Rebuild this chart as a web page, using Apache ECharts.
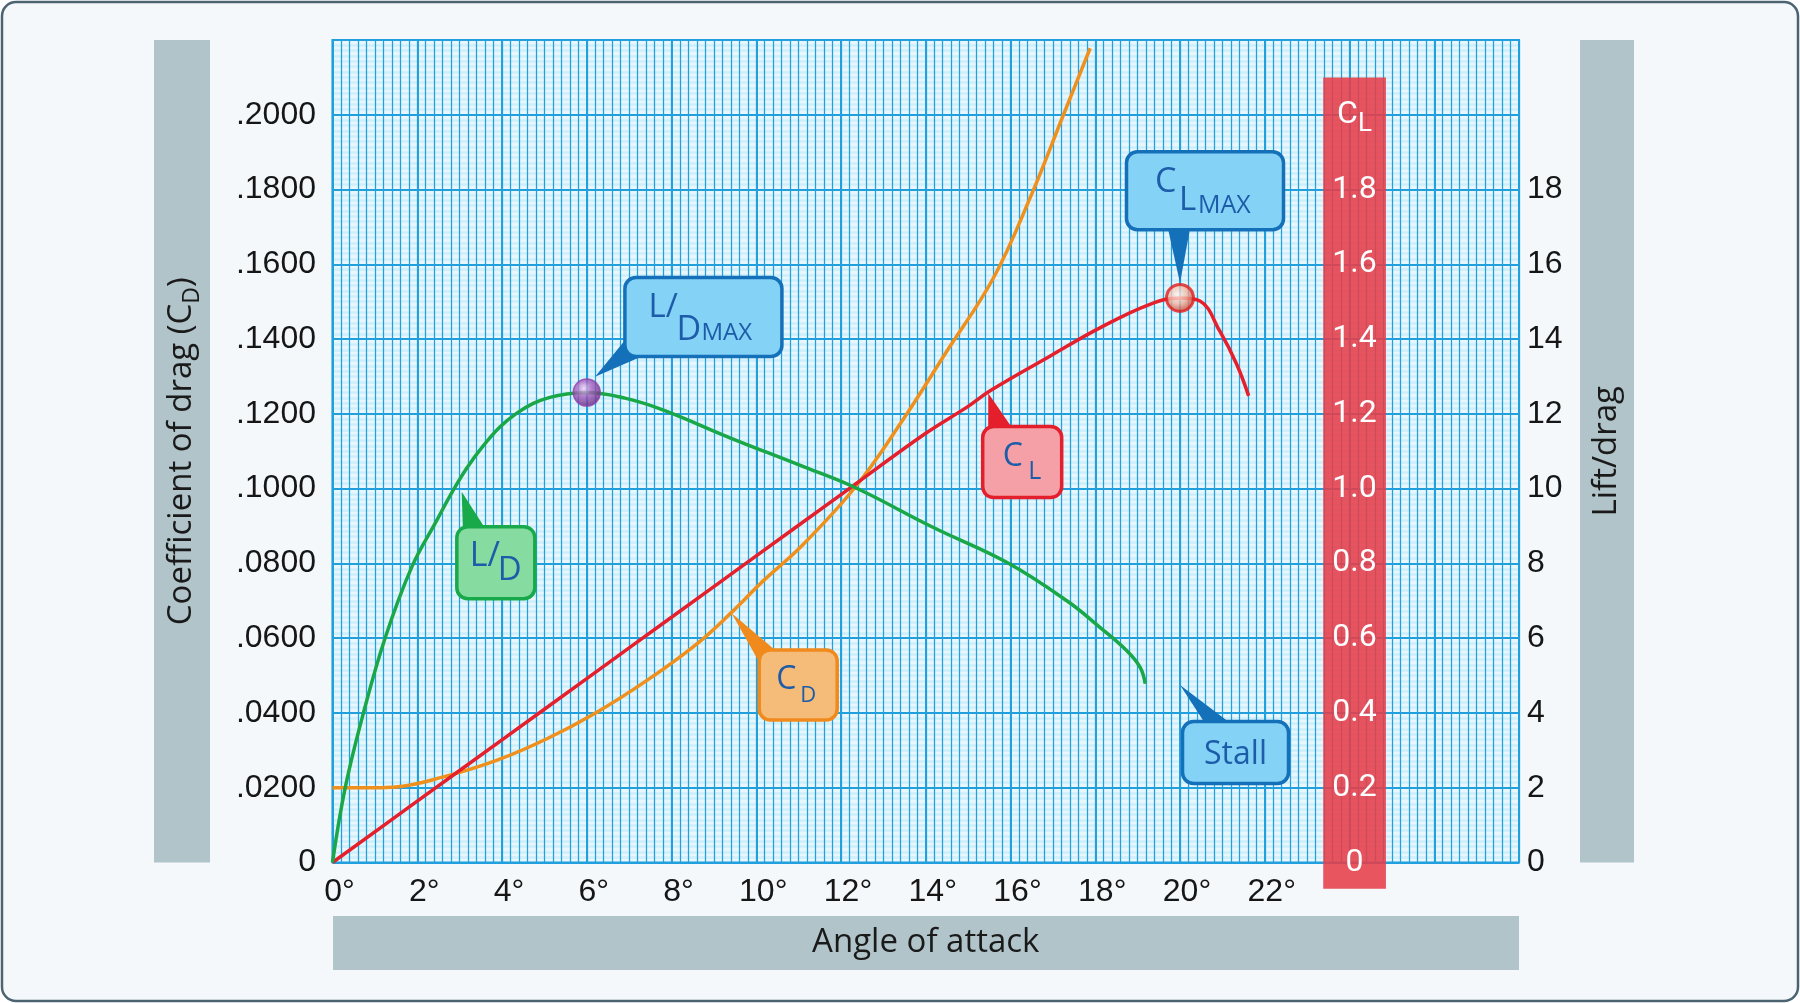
<!DOCTYPE html>
<html>
<head>
<meta charset="utf-8">
<title>Angle of attack</title>
<script src="https://cdn.jsdelivr.net/npm/echarts/dist/echarts.min.js"></script>
<style>
  html, body { margin: 0; padding: 0; background: #ffffff; }
  #chart { width: 1800px; height: 1003px; }
</style>
</head>
<body>
<div id="chart"></div>
<script>
// lift/drag ratio against angle of attack (deg)
const ldAngles = [0, 0.3, 0.73, 1.24, 1.87, 2.46, 2.77, 3.17, 3.56, 3.95, 4.35, 4.74, 5.13, 5.53, 6, 6.9, 7.81, 9.38, 11.04, 12.33, 14.18, 15.91, 17.33, 18.11, 18.74, 19.06, 19.18];
const ldValues = [0, 2, 4, 6, 7.9, 9.15, 9.8, 10.55, 11.15, 11.65, 12.02, 12.28, 12.44, 12.53, 12.57, 12.42, 12.1, 11.36, 10.62, 10.03, 8.96, 8.03, 7.0, 6.29, 5.67, 5.22, 4.78];

// coefficient of drag
const cdAngles = [0, 1, 1.5, 2.62, 3.87, 5.06, 6.24, 7.42, 8.6, 9.38, 10.17, 11.04, 12.33, 13.39, 14.5, 15.6, 16.46, 17.25, 17.88];
const cdValues = [0.02, 0.02, 0.0202, 0.0229, 0.0273, 0.0331, 0.0402, 0.0487, 0.0585, 0.0665, 0.0754, 0.0843, 0.1003, 0.1172, 0.1368, 0.1564, 0.1777, 0.2, 0.2178];

// coefficient of lift
const clAngles = [0, 2, 4, 6, 8, 10, 12, 14, 15, 15.52, 16.94, 18.11, 19.29, 20, 20.47, 20.94, 21.34, 21.62];
const clValues = [0, 0.164, 0.328, 0.492, 0.656, 0.82, 0.984, 1.148, 1.22, 1.262, 1.355, 1.43, 1.493, 1.51, 1.502, 1.421, 1.332, 1.248];

// tick labels
const angleLabels = ['0°', '2°', '4°', '6°', '8°', '10°', '12°', '14°', '16°', '18°', '20°', '22°'];
const cdLabels = ['0', '.0200', '.0400', '.0600', '.0800', '.1000', '.1200', '.1400', '.1600', '.1800', '.2000'];
const ldLabels = ['0', '2', '4', '6', '8', '10', '12', '14', '16', '18'];
const clLabels = ['0', '0.2', '0.4', '0.6', '0.8', '1.0', '1.2', '1.4', '1.6', '1.8'];

// red C_L scale strip (degrees, C_L units)
const clBandAngles = [23.38, 24.86];
const clBandRange = [-0.07, 2.1];

const TEXT_BLUE = '#1d5ca8';
const LABEL_FONT = 'Liberation Sans';
const TITLE_FONT = 'Open Sans';

// callout boxes: tip and box centre in (deg, C_D) units, the rest in px
const callouts = [
  { tip: [6.195, 0.1299], box: [8.753, 0.1459], size: [157, 79], fill: '#84d2f6', stroke: '#1470b8',
    base: [[-79, 24], [-63, 40]],
    text: [{ t: 'L/', dx: -55, dy: -9, s: 33 }, { t: 'D', dx: -27, dy: 13, s: 34 }, { t: 'MAX', dx: -2, dy: 16, s: 24 }] },
  { tip: [20.0, 0.155], box: [20.59, 0.1797], size: [157, 78], fill: '#84d2f6', stroke: '#1470b8',
    base: [[-37, 38], [-15, 38]],
    text: [{ t: 'C', dx: -50, dy: -8, s: 34 }, { t: 'L', dx: -26, dy: 10, s: 33 }, { t: 'MAX', dx: -7, dy: 15, s: 25 }] },
  { tip: [3.049, 0.0992], box: [3.854, 0.0802], size: [78, 72], fill: '#86dba0', stroke: '#18a94a',
    base: [[-33, -35], [-11, -35]],
    text: [{ t: 'L/', dx: -26, dy: -6, s: 34 }, { t: 'D', dx: 2, dy: 8, s: 33 }] },
  { tip: [9.42, 0.0667], box: [10.99, 0.0475], size: [78, 70], fill: '#f5bb78', stroke: '#f08a1c',
    base: [[-38, -21], [-22, -34]],
    text: [{ t: 'C', dx: -22, dy: -5, s: 32 }, { t: 'D', dx: 2, dy: 11, s: 22 }] },
  { tip: [15.476, 0.1255], box: [16.276, 0.1071], size: [79, 71], fill: '#f4a0a6', stroke: '#e41e2b',
    base: [[-34, -34], [-10, -34]],
    text: [{ t: 'C', dx: -19.5, dy: -5, s: 32 }, { t: 'L', dx: 6, dy: 10, s: 25 }] },
  { tip: [20.0, 0.0475], box: [21.31, 0.0294], size: [106, 62], fill: '#84d2f6', stroke: '#1470b8',
    base: [[-31, -30], [-6, -30]],
    text: [{ t: 'Stall', dx: 0, dy: 2.5, s: 32, align: 'center' }] }
];

function pairs(xs, ys) {
  return xs.map((x, i) => [x, ys[i]]);
}

function peakOf(xs, ys) {
  let k = 0;
  ys.forEach((v, i) => { if (v > ys[k]) k = i; });
  return [xs[k], ys[k]];
}

function renderBand(params, api) {
  const topLeft = api.coord([api.value(0), api.value(3)]);
  const bottomRight = api.coord([api.value(1), api.value(2)]);
  return {
    type: 'rect',
    shape: { x: topLeft[0], y: topLeft[1], width: bottomRight[0] - topLeft[0], height: bottomRight[1] - topLeft[1] },
    style: { fill: '#e63d49', opacity: 0.88 }
  };
}

function renderCallout(params, api) {
  const c = callouts[params.dataIndex];
  const tip = api.coord(c.tip);
  const mid = api.coord(c.box);
  const w = c.size[0];
  const h = c.size[1];
  const children = [
    {
      type: 'polygon',
      shape: { points: [tip, [mid[0] + c.base[0][0], mid[1] + c.base[0][1]], [mid[0] + c.base[1][0], mid[1] + c.base[1][1]]] },
      style: { fill: c.stroke }
    },
    {
      type: 'rect',
      shape: { x: mid[0] - w / 2, y: mid[1] - h / 2, width: w, height: h, r: 11 },
      style: { fill: c.fill, stroke: c.stroke, lineWidth: 3.5 }
    }
  ];
  c.text.forEach(t => {
    children.push({
      type: 'text',
      x: mid[0] + t.dx,
      y: mid[1] + t.dy,
      style: { text: t.t, fill: TEXT_BLUE, fontSize: t.s, fontFamily: TITLE_FONT, align: t.align || 'left', verticalAlign: 'middle' }
    });
  });
  return { type: 'group', children: children };
}

const labelStyle = { color: '#161616', fontSize: 32, fontFamily: LABEL_FONT };
const titleStyle = { color: '#1a1a1a', fontSize: 33, fontFamily: TITLE_FONT };
const curveLine = { showSymbol: false, symbol: 'none', smooth: 0.4, z: 5 };

const chart = echarts.init(document.getElementById('chart'));

chart.setOption({
  animation: false,
  backgroundColor: 'transparent',
  graphic: [
    { type: 'rect', z: -10, shape: { x: 2, y: 2, width: 1796, height: 999, r: 14 }, style: { fill: '#f4f8fb', stroke: '#4c6472', lineWidth: 2.5 } },
    { type: 'rect', z: -9, shape: { x: 154, y: 40, width: 56, height: 822.5 }, style: { fill: '#b0c4ca' } },
    { type: 'rect', z: -9, shape: { x: 1580, y: 40, width: 54, height: 822.5 }, style: { fill: '#b0c4ca' } },
    { type: 'rect', z: -9, shape: { x: 333, y: 916, width: 1186, height: 54 }, style: { fill: '#b0c4ca' } }
  ],
  grid: {
    left: 332.5, right: 281, top: 40, bottom: 140.5,
    show: true, backgroundColor: '#e9f7fd', borderColor: '#1c9ddb', borderWidth: 2
  },
  xAxis: [
    {
      type: 'value', min: 0, max: 28, interval: 2, z: 1,
      axisLine: { show: false }, axisTick: { show: false },
      splitLine: { show: true, lineStyle: { color: '#22a0de', width: 2 } },
      axisLabel: {
        ...labelStyle, margin: 14, padding: [0, 0, 0, 14],
        showMinLabel: true, showMaxLabel: true,
        formatter: v => angleLabels[Math.round(v / 2)] || ''
      },
      name: 'Angle of attack', nameLocation: 'middle', nameGap: 80,
      nameTextStyle: { ...titleStyle, verticalAlign: 'middle' }
    },
    {
      type: 'value', min: 0, max: 28, interval: 0.2, z: 2,
      axisLine: { show: false }, axisTick: { show: false }, axisLabel: { show: false },
      splitLine: { show: true, lineStyle: { color: '#22a0de', width: 1.25 } }
    }
  ],
  yAxis: [
    {
      type: 'value', min: 0, max: 0.22, interval: 0.02, position: 'left', z: 1,
      axisLine: { show: false }, axisTick: { show: false },
      splitLine: { show: true, lineStyle: { color: '#22a0de', width: 2 } },
      minorTick: { show: false, splitNumber: 14 },
      minorSplitLine: { show: true, lineStyle: { color: '#cdeefa', width: 2.5 } },
      axisLabel: {
        ...labelStyle, margin: 16.5, showMinLabel: true, showMaxLabel: true,
        formatter: v => cdLabels[Math.round(v / 0.02)] || ''
      },
      name: 'Coefficient of drag (C{sub|D})', nameLocation: 'middle', nameGap: 150.5, nameRotate: 90,
      nameTextStyle: {
        ...titleStyle, align: 'center', verticalAlign: 'middle',
        rich: { sub: { fontSize: 23, fontFamily: TITLE_FONT, color: '#1a1a1a', padding: [20, 0, 0, 0] } }
      }
    },
    {
      type: 'value', min: 0, max: 22, interval: 2, position: 'right', z: 1,
      axisLine: { show: false }, axisTick: { show: false }, splitLine: { show: false },
      axisLabel: {
        ...labelStyle, margin: 8, showMinLabel: true, showMaxLabel: true,
        formatter: v => ldLabels[Math.round(v / 2)] || ''
      },
      name: 'Lift/drag', nameLocation: 'middle', nameGap: 88, nameRotate: 90,
      nameTextStyle: { ...titleStyle, align: 'center', verticalAlign: 'middle' }
    },
    {
      type: 'value', min: 0, max: 2.2, interval: 0.2, position: 'right', offset: -164.5, z: 10,
      axisLine: { show: false }, axisTick: { show: false }, splitLine: { show: false },
      axisLabel: {
        color: '#ffffff', fontSize: 32, fontFamily: 'Roboto', margin: 0, align: 'center',
        showMinLabel: true, showMaxLabel: true,
        formatter: v => {
          const i = Math.round(v / 0.2);
          if (i === 10) return '{c|C}{l|L}';
          return clLabels[i] || '';
        },
        rich: {
          c: { color: '#ffffff', fontSize: 32, fontFamily: 'Roboto' },
          l: { color: '#ffffff', fontSize: 26, fontFamily: 'Roboto', padding: [20, 0, 0, 0] }
        }
      }
    }
  ],
  series: [
    {
      type: 'custom', name: 'CL scale', coordinateSystem: 'cartesian2d', xAxisIndex: 0, yAxisIndex: 2,
      clip: false, silent: true, z: 3,
      encode: { x: [0, 1], y: [2, 3] },
      data: [[clBandAngles[0], clBandAngles[1], clBandRange[0], clBandRange[1]]],
      renderItem: renderBand
    },
    {
      type: 'line', name: 'CD', xAxisIndex: 0, yAxisIndex: 0, ...curveLine,
      data: pairs(cdAngles, cdValues),
      lineStyle: { color: '#f0901c', width: 3.5 }
    },
    {
      type: 'line', name: 'CL', xAxisIndex: 0, yAxisIndex: 2, ...curveLine,
      data: pairs(clAngles, clValues),
      lineStyle: { color: '#e4202c', width: 3.5 }
    },
    {
      type: 'line', name: 'L/D', xAxisIndex: 0, yAxisIndex: 1, ...curveLine,
      data: pairs(ldAngles, ldValues),
      lineStyle: { color: '#19a748', width: 3.5 }
    },
    {
      type: 'scatter', name: 'L/D max', xAxisIndex: 0, yAxisIndex: 1, z: 8, silent: true,
      data: [peakOf(ldAngles, ldValues)], symbolSize: 27,
      itemStyle: {
        color: { type: 'radial', x: 0.4, y: 0.35, r: 0.7, colorStops: [
          { offset: 0, color: '#efd8f4' }, { offset: 0.35, color: '#ad68c4' }, { offset: 1, color: '#5e1c78' }] },
        borderColor: '#8e44ad', borderWidth: 1.5
      }
    },
    {
      type: 'scatter', name: 'CL max', xAxisIndex: 0, yAxisIndex: 2, z: 8, silent: true,
      data: [peakOf(clAngles, clValues)], symbolSize: 27,
      itemStyle: {
        color: { type: 'radial', x: 0.42, y: 0.38, r: 0.6, colorStops: [
          { offset: 0, color: '#fff6f0' }, { offset: 0.5, color: '#f2b9a6' }, { offset: 1, color: '#c8432f' }] },
        borderColor: '#e02020', borderWidth: 3
      }
    },
    {
      type: 'custom', name: 'callouts', coordinateSystem: 'cartesian2d', xAxisIndex: 0, yAxisIndex: 0,
      clip: false, silent: true, z: 9,
      encode: { x: 0, y: 1 },
      data: callouts.map(c => c.tip),
      renderItem: renderCallout
    }
  ]
});

window.addEventListener('resize', chart.resize);
</script>
</body>
</html>
